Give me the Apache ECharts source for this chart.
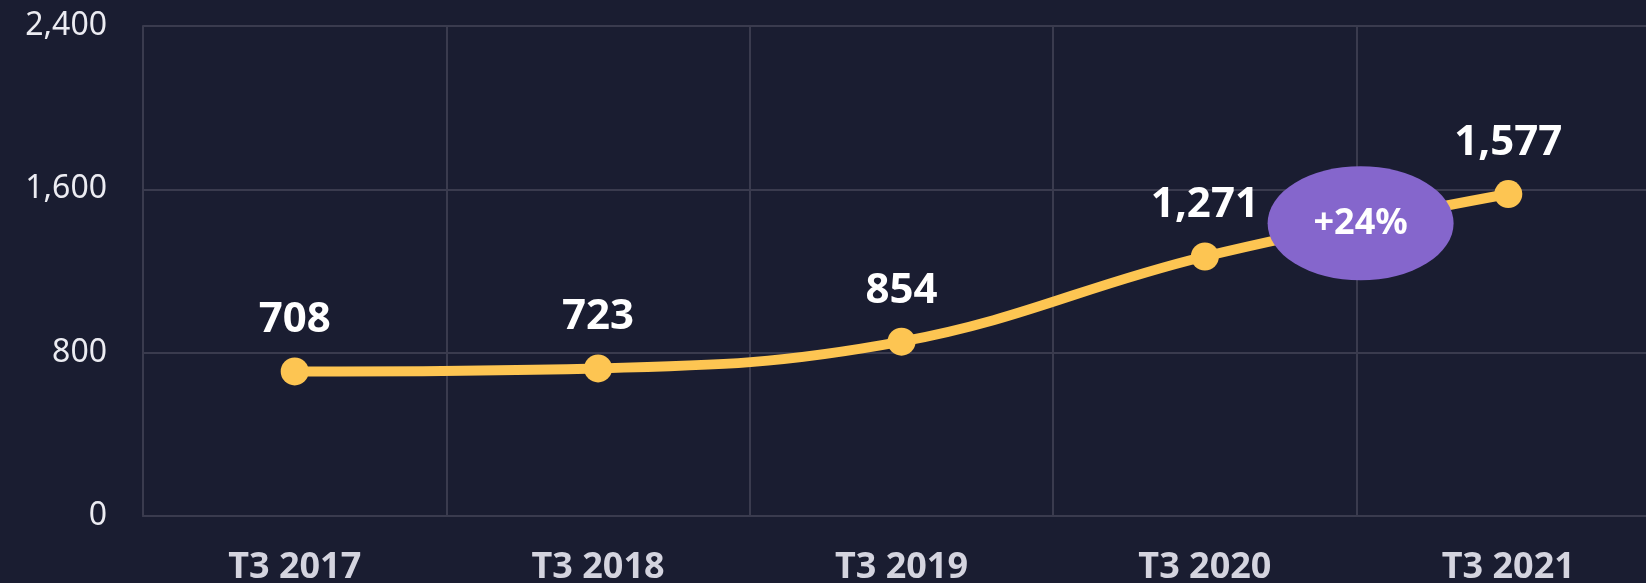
<!DOCTYPE html>
<html>
<head>
<meta charset="utf-8">
<script src="https://cdn.jsdelivr.net/npm/echarts@6/dist/echarts.min.js"></script>
<style>
html,body{margin:0;padding:0;background:#1a1d31;}
#chart{width:1646px;height:583px;}
</style>
</head>
<body>
<div id="chart"></div>
<script>
const categories = ['T3 2017', 'T3 2018', 'T3 2019', 'T3 2020', 'T3 2021'];
const values = [708, 723, 854, 1271, 1577];
const yTicks = [0, 800, 1600, 2400];
const badgeText = '+24%';

const FONT = '"Noto Sans", "Open Sans", sans-serif';
const fmt = v => String(v).replace(/\B(?=(\d{3})+(?!\d))/g, ',');

const chart = echarts.init(document.getElementById('chart'), null, {renderer: 'canvas'});
const option = {
  backgroundColor: '#1a1d31',
  animation: false,
  grid: {left: 143, width: 1517, top: 26, bottom: 67, outerBoundsMode: 'none', containLabel: false},
  xAxis: {
    type: 'category',
    data: categories,
    boundaryGap: true,
    axisLine: {show: true, lineStyle: {color: '#3a3b4e', width: 2}},
    axisTick: {show: false},
    splitLine: {show: true, lineStyle: {color: '#3a3b4e', width: 2}},
    axisLabel: {
      color: '#d4d4df', fontFamily: FONT, fontWeight: 'bold', fontSize: 36,
      margin: 34, interval: 0
    }
  },
  yAxis: {
    type: 'value',
    min: yTicks[0], max: yTicks[yTicks.length - 1], interval: yTicks[1] - yTicks[0],
    axisLine: {show: true, lineStyle: {color: '#3a3b4e', width: 2}},
    axisTick: {show: false},
    splitLine: {show: true, lineStyle: {color: '#3a3b4e', width: 2}},
    axisLabel: {
      color: '#ececf2', fontFamily: FONT, fontSize: 32, margin: 36,
      formatter: v => fmt(v)
    }
  },
  series: [{
    type: 'line',
    data: values,
    smooth: 0.4,
    symbol: 'circle',
    symbolSize: 28,
    lineStyle: {color: '#fdc552', width: 10},
    itemStyle: {color: '#fdc552'},
    label: {
      show: true, position: 'top', distance: 16,
      color: '#ffffff', fontFamily: FONT, fontWeight: 'bold', fontSize: 42,
      formatter: p => fmt(p.value)
    },
    z: 2
  }]
};
chart.setOption(option);

const p1 = chart.convertToPixel({seriesIndex: 0}, [3, values[3]]);
const p2 = chart.convertToPixel({seriesIndex: 0}, [4, values[4]]);
chart.setOption({
  series: [{
    markPoint: {
      symbol: 'circle',
      symbolSize: [186, 114],
      itemStyle: {color: '#8566cc'},
      label: {show: true, color: '#ffffff', fontFamily: FONT, fontWeight: 'bold', fontSize: 36, formatter: badgeText},
      data: [{x: (p1[0] + p2[0]) / 2 + 4, y: (p1[1] + p2[1]) / 2 - 2, value: badgeText}]
    }
  }]
});
</script>
</body>
</html>
